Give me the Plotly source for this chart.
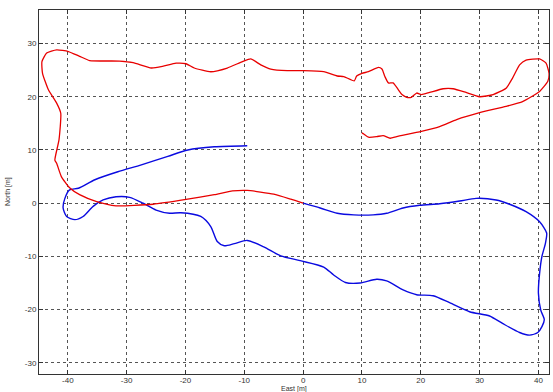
import plotly.graph_objects as go

# Blue trajectory (East, North in metres)
blue_east = [-9.5, -15.1, -19.6, -23.0, -27.5, -31.5, -35.4, -38.2, -39.7, -40.5, -40.8, -40.2,
             -38.8, -37.4, -35.7, -34.0, -31.8, -29.5, -27.2, -25.0, -22.7, -20.8, -17.4, -15.7,
             -14.6, -13.4, -11.7, -9.5, -6.7, -3.8, -0.5, 3.5, 5.2, 7.2, 9.7, 12.5, 14.2, 17.0,
             19.3, 22.1, 24.9, 28.3, 31.7, 33.9, 36.8, 38.5, 39.9, 40.6, 41.0, 40.4, 40.0, 40.2,
             40.6, 41.2, 41.4, 40.2, 37.9, 35.1, 32.8, 29.4, 26.6, 23.2, 19.8, 17.0, 14.2, 11.9,
             8.6, 5.8, 2.9, 0.0]
blue_north = [10.8, 10.6, 10.0, 8.8, 7.2, 5.9, 4.4, 2.8, 2.5, 0.9, -0.9, -2.5,
              -3.1, -2.5, -0.6, 0.6, 1.2, 1.1, 0.0, -1.3, -1.9, -1.8, -2.5, -4.4,
              -7.2, -8.0, -7.6, -7.0, -8.2, -9.9, -10.8, -12.0, -13.5, -14.9, -15.0, -14.3, -14.6, -16.3,
              -17.2, -17.4, -18.7, -20.4, -21.2, -22.6, -24.3, -24.8, -24.3, -23.2, -21.9, -20.1, -16.9, -13.2,
              -10.0, -7.5, -5.6, -3.5, -1.6, -0.2, 0.6, 0.9, 0.4, -0.1, -0.4, -0.9, -1.9, -2.2,
              -2.2, -1.9, -0.9, 0.0]

# Red trajectory (East, North in metres)
red_east = [0.0, -2.1, -5.0, -9.5, -12.0, -15.1, -19.9, -25.5, -31.8, -35.1, -38.0, -39.7,
            -41.1, -41.9, -42.2, -41.5, -41.2, -41.9, -43.3, -44.3, -44.4, -43.6, -41.9, -39.9,
            -38.0, -36.3, -31.2, -28.9, -25.8, -23.9, -21.6, -19.9, -18.5, -15.7, -12.9, -10.3,
            -8.9, -7.2, -5.5, -2.7, 0.1, 3.5, 5.8, 6.9, 8.7, 9.1, 10.0, 11.1, 12.8, 13.4, 13.9,
            14.5, 15.3, 16.2, 16.8, 17.6, 18.4, 19.3, 20.1, 21.5, 23.8, 25.5, 27.7, 30.0, 32.3,
            34.5, 35.6, 36.8, 37.9, 40.2, 41.3, 41.8, 41.6, 40.2, 37.3, 34.5, 30.0, 26.1, 23.2,
            20.1, 15.9, 14.8, 13.6, 12.5, 11.1, 10.3, 10.0]
red_north = [0.0, 0.75, 1.7, 2.4, 2.3, 1.6, 0.7, -0.2, -0.5, 0.3, 1.6, 2.9,
             5.0, 7.5, 8.1, 11.9, 16.9, 18.8, 21.3, 24.4, 26.6, 28.2, 28.8, 28.5,
             27.6, 26.8, 26.7, 26.4, 25.4, 25.7, 26.3, 26.2, 25.4, 24.7, 25.4, 26.6,
             27.1, 26.0, 25.2, 24.9, 24.9, 24.7, 23.9, 23.8, 23.0, 23.9, 24.4, 24.7, 25.5, 25.2, 23.8,
             22.6, 22.6, 21.3, 20.4, 19.9, 19.9, 20.7, 20.4, 20.8, 21.5, 21.5, 20.8, 20.0, 20.4,
             21.6, 23.5, 26.0, 26.9, 27.1, 26.3, 24.4, 22.9, 21.0, 19.1, 18.2, 17.0, 15.7, 14.4,
             13.5, 12.5, 12.2, 12.7, 12.5, 12.4, 13.0, 13.2]

x_ticks = [-40, -30, -20, -10, 0, 10, 20, 30, 40]
y_ticks = [-30, -20, -10, 0, 10, 20, 30]

FONT = "Liberation Sans, Arial"

fig = go.Figure()
fig.add_trace(go.Scatter(x=blue_east, y=blue_north, mode="lines",
                         line=dict(color="#0a0ae0", width=1.4, shape="spline", smoothing=0.7),
                         showlegend=False, cliponaxis=True))
fig.add_trace(go.Scatter(x=red_east, y=red_north, mode="lines",
                         line=dict(color="#e80000", width=1.3, shape="spline", smoothing=0.5),
                         showlegend=False, cliponaxis=True))

axis_common = dict(showline=True, linecolor="#333333", linewidth=1, mirror="ticks",
                   ticks="inside", ticklen=4, tickcolor="#333333", automargin=False,
                   showgrid=True, gridcolor="#555555", gridwidth=1, griddash="dot",
                   zeroline=False, tickfont=dict(family=FONT, size=8, color="#333333"))

fig.update_xaxes(range=[-44.9, 41.8], tickvals=x_ticks, ticktext=[str(v) for v in x_ticks],
                 ticklabelstandoff=-2, **axis_common)
fig.update_yaxes(range=[-32.1, 36.3], tickvals=y_ticks, ticktext=[str(v) for v in y_ticks],
                 **axis_common)

fig.add_annotation(text="East [m]", xref="paper", yref="paper", x=0.5, y=0,
                   yshift=-14.5, yanchor="middle", xanchor="center", showarrow=False,
                   font=dict(family=FONT, size=7, color="#333333"))
fig.add_annotation(text="North [m]", xref="paper", yref="paper", x=0, y=0.5,
                   xshift=-31, xanchor="center", yanchor="middle", textangle=-90, showarrow=False,
                   font=dict(family=FONT, size=7, color="#333333"))

fig.update_layout(width=553, height=392, margin=dict(l=39, r=4, t=10, b=18),
                  plot_bgcolor="white", paper_bgcolor="white")

fig.write_html("out.html", config={"displayModeBar": False},
               post_script="document.body.style.margin='0';document.body.style.overflow='hidden';")
